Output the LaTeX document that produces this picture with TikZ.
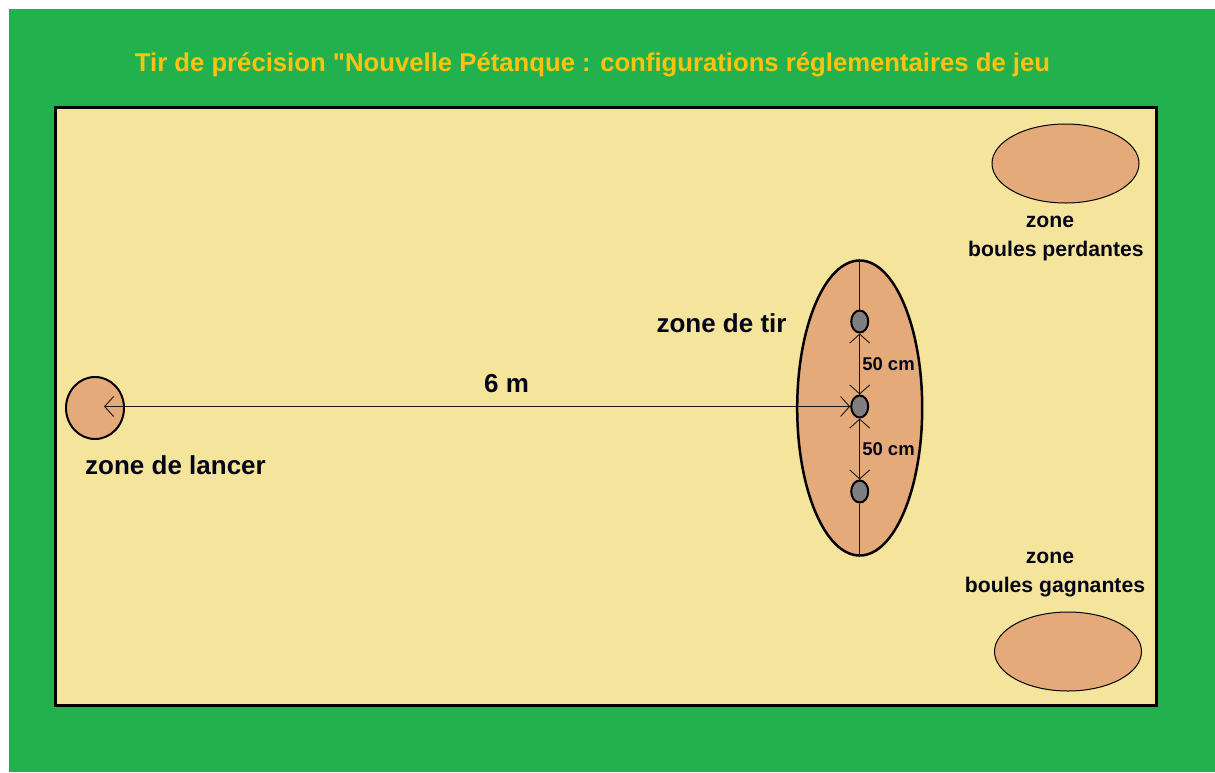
\documentclass[tikz,border=0pt]{standalone}
\usepackage{fontspec}
\setmainfont{Liberation Sans}[Ligatures=TeXOff]
\usetikzlibrary{shapes.geometric,arrows.meta}
\definecolor{pgreen}{HTML}{22B14C}
\definecolor{pfield}{HTML}{F5E49C}
\definecolor{pzone}{HTML}{E5AA7A}
\definecolor{pdot}{HTML}{7F7F7F}
\definecolor{ptitle}{HTML}{FFC20E}
\definecolor{plabel}{HTML}{050518}
\tikzset{
  x=1pt,y=-1pt,
  zone/.style={ellipse,draw=black,fill=pzone,inner sep=0pt,minimum width=#1},
  dotball/.style={ellipse,draw=black,line width=2pt,fill=pdot,inner sep=0pt,minimum width=17pt,minimum height=22pt},
  lab/.style={font=\bfseries\fontsize{#1}{#1}\selectfont,text=plabel,inner sep=0pt,align=center},
  measure/.style={draw=black!90,line width=1.3pt,-{Straight Barb[length=9pt,width=20pt,line width=.9pt]}},
  plain/.style={draw=black!90,line width=1.3pt},
}
\begin{document}
\begin{tikzpicture}
\useasboundingbox (0,0) rectangle (1215,772);
\fill[white] (0,0) rectangle (1215,772);
\fill[pgreen] (9,9) rectangle (1215,772);
\draw[draw=black,line width=2.5pt,fill=pfield] (55.5,107.5) rectangle (1156.5,705.5);
\node[font=\bfseries\fontsize{25.7}{25.7}\selectfont,text=ptitle,inner sep=0pt] (title) at (592.5,65) {Tir de précision "Nouvelle Pétanque : configurations réglementaires de jeu};
\node[zone=58pt,minimum height=62pt,line width=2pt] (lancer) at (95,408) {};
\coordinate (lanceraim) at (104,406.5);
\node[zone=125pt,minimum height=295pt,line width=2.5pt] (tir) at (859.7,408) {};
\node[zone=147pt,minimum height=79pt,line width=1pt] (perd) at (1065.5,163.5) {};
\node[zone=147pt,minimum height=79pt,line width=1pt] (gagn) at (1068,651.5) {};
\node[dotball] (d1) at (859.7,321.5) {};
\node[dotball] (d2) at (859.7,406.5) {};
\node[dotball] (d3) at (859.7,491.5) {};
\draw[plain] (tir.north) -- (d1.north);
\draw[plain] (d3.south) -- (tir.south);
\draw[measure] (d2.north) -- (d1.south);
\draw[measure] (d1.south) -- (d2.north);
\draw[measure] (d2.south) -- (d3.north);
\draw[measure] (d3.north) -- (d2.south);
\draw[measure] (lanceraim) -- (d2.west);
\draw[measure] (d2.west) -- (lanceraim);
\node[lab=26] (lt) at (175.5,465.5) {zone de lancer};
\node[lab=26] (lm) at (506.5,384) {6 m};
\node[lab=26] (lz) at (721.5,323) {zone de tir};
\node[lab=18.5] (c1) at (888.5,364.5) {50 cm};
\node[lab=18.5] (c2) at (888.5,449.5) {50 cm};
\node[lab=21.2,align=center] (lp) at (1056,238.5) {zone\hspace*{12pt}\\[7pt]boules perdantes};
\node[lab=21.2,align=center] (lg) at (1055,574.5) {zone\hspace*{10pt}\\[8pt]boules gagnantes};
\end{tikzpicture}
\end{document}
